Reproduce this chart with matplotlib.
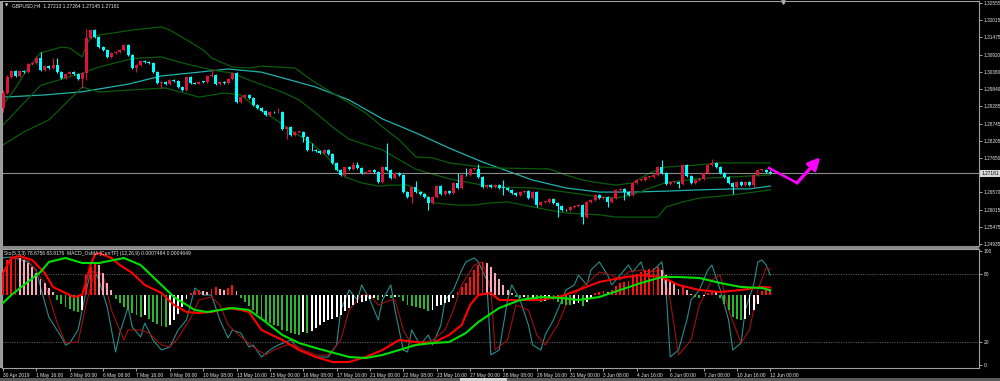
import numpy as np
import matplotlib.pyplot as plt
from matplotlib.patches import Rectangle
from matplotlib.transforms import blended_transform_factory

plt.rcParams['font.family'] = ['Liberation Sans', 'DejaVu Sans']

# GBPUSD H4, bar 0 = 30 Apr 2019 08:00, one bar = 4 hours
first_open = 1.2924
closes = [
    1.2971, 1.3022, 1.3041, 1.3025, 1.3041, 1.3037, 1.3063, 1.3066, 1.3082, 1.3044,
    1.3056, 1.3050, 1.3060, 1.3037, 1.3019, 1.3031, 1.3037, 1.3031, 1.3015, 1.3034,
    1.3145, 1.3170, 1.3148, 1.3116, 1.3107, 1.3085, 1.3098, 1.3101, 1.3107, 1.3123,
    1.3091, 1.3050, 1.3060, 1.3072, 1.3070, 1.3066, 1.3037, 1.3003, 1.3006, 1.2999,
    1.3012, 1.3010, 1.2990, 1.2981, 1.3022, 1.3003, 1.3001, 1.3006, 1.3005, 1.3025,
    1.3028, 1.2999, 1.3006, 1.3004, 1.3015, 1.3034, 1.2943, 1.2958, 1.2965, 1.2955,
    1.2933, 1.2924, 1.2914, 1.2902, 1.2911, 1.2910, 1.2912, 1.2857, 1.2864, 1.2838,
    1.2848, 1.2849, 1.2832, 1.2791, 1.2790, 1.2788, 1.2782, 1.2791, 1.2778, 1.2750,
    1.2728, 1.2712, 1.2737, 1.2731, 1.2744, 1.2734, 1.2718, 1.2721, 1.2728, 1.2721,
    1.2690, 1.2737, 1.2728, 1.2703, 1.2718, 1.2712, 1.2658, 1.2643, 1.2674, 1.2658,
    1.2652, 1.2643, 1.2624, 1.2643, 1.2677, 1.2652, 1.2661, 1.2655, 1.2687, 1.2671,
    1.2712, 1.2711, 1.2731, 1.2732, 1.2706, 1.2674, 1.2680, 1.2674, 1.2680, 1.2671,
    1.2670, 1.2665, 1.2655, 1.2649, 1.2658, 1.2660, 1.2639, 1.2658, 1.2617, 1.2627,
    1.2628, 1.2636, 1.2624, 1.2614, 1.2601, 1.2600, 1.2611, 1.2614, 1.2617, 1.2579,
    1.2627, 1.2633, 1.2649, 1.2639, 1.2643, 1.2627, 1.2639, 1.2665, 1.2668, 1.2658,
    1.2649, 1.2687, 1.2696, 1.2697, 1.2706, 1.2707, 1.2712, 1.2737, 1.2718, 1.2684,
    1.2690, 1.2691, 1.2684, 1.2744, 1.2709, 1.2687, 1.2696, 1.2699, 1.2718, 1.2744,
    1.2750, 1.2737, 1.2718, 1.2706, 1.2687, 1.2674, 1.2690, 1.2680, 1.2690, 1.2680,
    1.2712, 1.2728, 1.2729, 1.27213, 1.27181,
]
# bars with visible long shadows
wick_highs = {0: 1.2981, 1: 1.3028, 8: 1.3088, 9: 1.3101, 12: 1.3082, 13: 1.3082,
              20: 1.3173, 21: 1.3173, 50: 1.3047, 66: 1.2924, 74: 1.2813, 84: 1.2753,
              85: 1.2753, 92: 1.2813, 99: 1.2693, 109: 1.2718, 111: 1.2734, 114: 1.2747,
              120: 1.2696, 158: 1.2759, 170: 1.2763, 184: 1.27264}
wick_lows = {0: 1.2911, 19: 1.2987, 20: 1.3012, 32: 1.3037, 38: 1.2987, 68: 1.2826,
             72: 1.2816, 98: 1.2624, 102: 1.2601, 120: 1.2649, 128: 1.2611, 133: 1.2579,
             139: 1.2557, 145: 1.2611, 149: 1.2633, 162: 1.2671, 175: 1.2652, 180: 1.2671,
             184: 1.27145}

# moving average (cyan) and Bollinger bands (green), read at sample bars
ma_bars = [0, 10, 19, 30, 38, 47, 54, 62, 67, 75, 83, 91, 99, 107, 115, 119, 127,
           135, 143, 151, 159, 167, 175, 179, 184]
ma_vals = [1.2958, 1.2965, 1.2975, 1.2999, 1.3025, 1.3037, 1.3047, 1.3037, 1.3019,
           1.2990, 1.2949, 1.2889, 1.2845, 1.2797, 1.2753, 1.2734, 1.2696, 1.2671,
           1.2658, 1.2658, 1.2661, 1.2665, 1.2668, 1.2668, 1.2677]
bb_up_bars = [0, 3, 6, 9, 14, 16, 19, 20, 21, 23, 31, 38, 40, 44, 48, 50, 55, 59, 62, 70,
              74, 79, 83, 87, 91, 95, 99, 103, 107, 115, 119, 131, 135, 139, 143, 147,
              151, 155, 159, 167, 171, 184]
bb_up = [1.2933, 1.2987, 1.3050, 1.3098, 1.3116, 1.3113, 1.3085, 1.3123, 1.3145, 1.3154,
         1.3170, 1.3180, 1.3170, 1.3139, 1.3107, 1.3082, 1.3053, 1.3050, 1.3056, 1.3050,
         1.3012, 1.2971, 1.2940, 1.2908, 1.2864, 1.2823, 1.2769, 1.2766, 1.2750, 1.2737,
         1.2734, 1.2731, 1.2712, 1.2696, 1.2687, 1.2680, 1.2687, 1.2718, 1.2737, 1.2744,
         1.2750, 1.2750]
bb_mid_bars = [0, 9, 19, 23, 31, 38, 43, 50, 55, 59, 67, 71, 75, 79, 83, 91, 99, 107,
               115, 119, 127, 135, 143, 147, 151, 155, 159, 167, 175, 184]
bb_mid = [1.2870, 1.2995, 1.3034, 1.3053, 1.3080, 1.3085, 1.3066, 1.3044, 1.3034, 1.3012,
          1.2974, 1.2949, 1.2908, 1.2864, 1.2825, 1.2791, 1.2730, 1.2700, 1.2680, 1.2674,
          1.2671, 1.2658, 1.2643, 1.2639, 1.2650, 1.2670, 1.2688, 1.2701, 1.2706, 1.2712]
bb_low_bars = [0, 5, 11, 19, 23, 31, 39, 47, 53, 57, 60, 63, 70, 74, 78, 82, 86, 90, 93,
               97, 101, 103, 109, 113, 117, 121, 131, 135, 143, 147, 157, 159, 163, 167,
               175, 184]
bb_low = [1.2807, 1.2848, 1.2886, 1.2990, 1.2974, 1.2981, 1.2987, 1.2958, 1.2971, 1.2965,
          1.2933, 1.2908, 1.2845, 1.2813, 1.2766, 1.2706, 1.2687, 1.2677, 1.2680, 1.2680,
          1.2655, 1.2624, 1.2617, 1.2617, 1.2624, 1.2627, 1.2601, 1.2592, 1.2586, 1.2579,
          1.2579, 1.2611, 1.2627, 1.2639, 1.2649, 1.2665]

# Stochastic (5,3,3)
sto_main_bars = [0, 2, 6, 8, 9, 11, 14, 15, 16, 18, 20, 21, 22, 23, 25, 27, 28, 30, 31, 33,
                 34, 36, 38, 40, 42, 44, 46, 48, 50, 52, 54, 55, 57, 59, 60, 62, 64, 66, 69, 71,
                 74, 75, 78, 80, 81, 83, 85, 86, 88, 90, 91, 93, 94, 96, 97, 98, 100, 102, 103, 105,
                 106, 108, 110, 111, 113, 114, 116, 117, 119, 121, 122, 124, 126, 127, 129, 130,
                 132, 134, 135, 137, 138, 140, 141, 143, 145, 146, 148, 150, 151, 153, 154, 156,
                 158, 159, 160, 162, 164, 165, 167, 169, 170, 172, 174, 175, 177, 178, 180, 181,
                 182, 183, 184]
sto_main = [94, 94.7, 90.4, 83.3, 68.4, 41.9, 24.6, 17.5, 19.3, 30.7,
            65.8, 81.6, 81.6, 74.6, 50.9, 11.4, 28.1, 50.9, 33.3, 24.6,
            36.8, 21.9, 13.2, 15.8, 30.7, 39.5, 67.5, 61.4, 61.4, 39.5,
            23.7, 30.7, 28.1, 15.8, 17.5, 7.0, 13.2, 17.5, 21.9, 13.2,
            8.8, 7.0, 7.0, 17.5, 48.2, 65.8, 57.0, 70.2, 57.0, 39.5,
            57.0, 70.2, 48.2, 13.2, 11.4, 30.7, 17.5, 26.3, 17.5, 35.1,
            57.0, 65.8, 83.3, 90.4, 93.9, 90.4, 74.6, 8.8, 13.2, 57.0,
            70.2, 57.0, 35.1, 17.5, 13.2, 26.3, 39.5, 57.0, 65.8, 70.2,
            78.9, 70.2, 83.3, 90.4, 78.9, 70.2, 78.9, 87.7, 81.6, 90.4,
            78.9, 83.3, 90.4, 65.8, 7.0, 13.2, 39.5, 57.0, 65.8, 83.3,
            87.7, 65.8, 39.5, 13.2, 19.3, 48.2, 70.2, 90.4, 92.1, 87.7,
            78.68]
sto_sig_bars = [0, 2, 6, 10, 13, 15, 18, 20, 22, 24, 26, 29, 30, 33, 35, 38, 40, 42, 45, 47,
                50, 52, 54, 56, 58, 60, 63, 65, 68, 70, 72, 75, 78, 81, 83, 86, 88, 90, 93, 94,
                96, 98, 101, 103, 106, 108, 110, 113, 115, 117, 118, 121, 123, 126, 128, 130,
                133, 135, 138, 141, 143, 146, 148, 150, 153, 155, 158, 160, 162, 165, 167, 170,
                172, 174, 177, 179, 181, 183, 184]
sto_sig = [81.6, 94.7, 92.1, 71.9, 36.8, 19.3, 20.2, 54.4, 81.6, 78.9,
           48.2, 21.9, 30.7, 30.7, 28.1, 17.5, 15.8, 23.7, 41.2, 57.0,
           59.6, 52.6, 35.1, 28.1, 21.9, 15.8, 8.8, 13.2, 17.5, 17.5,
           13.2, 8.8, 8.8, 21.9, 48.2, 61.4, 61.4, 52.6, 57.0, 57.0,
           30.7, 17.5, 19.3, 21.9, 30.7, 48.2, 70.2, 87.7, 90.4, 65.8,
           13.2, 21.9, 52.6, 48.2, 26.3, 17.5, 35.1, 52.6, 65.8, 74.6,
           81.6, 78.9, 74.6, 81.6, 83.3, 81.6, 83.3, 57.0, 8.8, 21.9,
           52.6, 74.6, 78.9, 48.2, 19.3, 30.7, 65.8, 85.1, 83.82]

# MACD_OsMA (12,26,9): histogram per bar in units of 0.0001, plus two lines
osma_e4 = [23, 35, 38, 38, 37, 35, 32, 28, 22, 16, 12, 7, 3,
           -5, -9, -12, -14, -16, -17, -15,
           20, 28, 32, 30, 22, 12, 5,
           -4, -8, -12, -15, -18, -20, -22, -20, -24, -27, -29, -31, -32, -30, -25, -19, -12,
           -4, 2, 4, 5, 4, 3, 6, 8, 6, 5, 7, 10, 4, -3,
           -7, -11, -15, -19, -23, -26, -28, -30, -31, -35, -36, -38, -39, -40,
           -37, -38, -36, -33, -30, -27, -25, -24, -22, -20, -16, -13,
           -10, -8, -7, -6, -4, -3, -5, -2, -1, -3, -2, -2,
           -6, -10, -11, -12, -13, -14, -16, -15, -11, -10, -8, -7, -3,
           3, 8, 12, 18, 25, 30, 33, 32, 28, 22, 16, 10,
           5, 2, -2, -3, -2, -4, -3, -6, -7, -6, -4, -5, -7, -9, -10,
           -10, -9, -8, -11, -7, -4, 2, 3, 4, 3, 5, 9,
           12, 13, 14, 18, 21, 23, 25, 26, 27, 28, 25,
           20, 15, 11, 6, 8, 5, 1, -2, -3, -1, 2, 4, 3, -3, -9, -15, -22, -24, -25, -24,
           -20, -15, -9, 4, 5, 6]
macd_bars = [0, 2, 4, 7, 10, 12, 15, 17, 19, 21, 22, 23, 26, 28, 31, 34, 38, 41, 44, 47,
             50, 54, 57, 59, 62, 67, 71, 75, 79, 83, 87, 91, 95, 99, 103, 107, 110, 112, 114, 117,
             119, 124, 129, 134, 138, 143, 148, 153, 158, 162, 167, 172, 177, 182, 184]
macd_vals = [0.0022, 0.0037, 0.0039, 0.0035, 0.0022, 0.0008, 0.0002, -0.0002, 0.0, 0.0030,
             0.0040, 0.0042, 0.0037, 0.0030, 0.0022, 0.0010, 0.0002, -0.0010, -0.0017, -0.0018,
             -0.0017, -0.0013, -0.0015, -0.0017, -0.0035, -0.0045, -0.0055, -0.0062, -0.0067, -0.0067,
             -0.0062, -0.0055, -0.0045, -0.0047, -0.0048, -0.0040, -0.0030, -0.0010, 0.0, 0.0002,
             -0.0005, -0.0005, -0.0005, -0.0001, 0.0005, 0.0013, 0.0017, 0.0020, 0.0018, 0.0010,
             0.0005, 0.0003, 0.0005, 0.0008, 0.0007484]
signal_bars = [0, 2, 5, 9, 11, 15, 19, 23, 29, 33, 35, 41, 46, 49, 55, 59, 63, 67, 71, 75,
               83, 87, 91, 95, 99, 103, 107, 111, 114, 119, 124, 129, 134, 138, 143, 148, 153,
               158, 162, 167, 172, 177, 182, 184]
signal_vals = [-0.0008, 0.0, 0.0010, 0.0023, 0.0033, 0.0037, 0.0032, 0.0032, 0.0037, 0.0030,
               0.0022, -0.0002, -0.0015, -0.0017, -0.0013, -0.0015, -0.0027, -0.0040, -0.0048, -0.0053,
               -0.0062, -0.0063, -0.0060, -0.0055, -0.0050, -0.0048, -0.0047, -0.0038, -0.0027, -0.0013,
               -0.0005, -0.0002, -0.0003, -0.0005, -0.0002, 0.0005, 0.0012, 0.0018, 0.0018, 0.0017,
               0.0012, 0.0008, 0.0007, 0.0004649]

price_ticks = [1.32555, 1.32015, 1.31475, 1.30920, 1.30380, 1.29840, 1.29285, 1.28745,
               1.28205, 1.27650, 1.26570, 1.26015, 1.25475, 1.24935]
time_labels = ['30 Apr 2019', '1 May 16:00', '3 May 00:00', '6 May 08:00', '7 May 16:00',
               '9 May 00:00', '10 May 08:00', '13 May 16:00', '15 May 00:00', '16 May 08:00',
               '17 May 16:00', '21 May 00:00', '22 May 08:00', '23 May 16:00', '27 May 00:00',
               '28 May 08:00', '29 May 16:00', '31 May 00:00', '3 Jun 08:00', '4 Jun 16:00',
               '6 Jun 00:00', '7 Jun 08:00', '10 Jun 16:00', '12 Jun 00:00']
last_price = 1.27181
arrow_bars = [183.7, 190.4, 196.0]
arrow_prices = [1.2734, 1.2687, 1.2768]
shift_bar, shift_price = 187, 1.3259

BULL, BEAR = '#DC143C', '#00FFFF'
FRAME = '#A0A0A0'
TXT = '#E6E6E6'


def px_box(x0, y0, x1, y1):
    return [x0 / 1000, 1 - y1 / 381, (x1 - x0) / 1000, (y1 - y0) / 381]


fig = plt.figure(figsize=(10, 3.81), dpi=100, facecolor='black')
ax = fig.add_axes(px_box(2, 1, 979, 246))
sub = fig.add_axes(px_box(2, 249, 979, 368))
xlim = (-0.24, 234.05)

# ---- main chart: candles
closes = np.array(closes)
n = len(closes)
bars = np.arange(n)
opens = np.concatenate([[first_open], closes[:-1]])
highs = np.maximum(opens, closes) + 0.0003
lows = np.minimum(opens, closes) - 0.0003
for k, v in wick_highs.items():
    highs[k] = v
for k, v in wick_lows.items():
    lows[k] = v
colors = np.where(closes >= opens, BULL, BEAR)
body = np.maximum(np.abs(closes - opens), 0.00025)

ax.set_facecolor('black')
ax.plot(ma_bars, ma_vals, color='#20B2AA', lw=0.9, zorder=1)
for bx, by in [(bb_up_bars, bb_up), (bb_mid_bars, bb_mid), (bb_low_bars, bb_low)]:
    ax.plot(bx, by, color='#0A5C0A', lw=0.9, zorder=1)
ax.vlines(bars, lows, highs, colors=colors, lw=0.8, zorder=2)
ax.bar(bars, body, bottom=np.minimum(opens, closes), width=0.72, color=colors,
       linewidth=0, zorder=3)
ax.axhline(last_price, color='#8C8C8C', lw=0.8, zorder=1.5)

ax.plot(arrow_bars[:2], arrow_prices[:2], color='#FF00FF', lw=1.8, zorder=5)
ax.annotate('', xy=(arrow_bars[2], arrow_prices[2]), xytext=(arrow_bars[1], arrow_prices[1]),
            arrowprops=dict(arrowstyle='-|>,head_length=0.7,head_width=0.35',
                            color='#FF00FF', lw=2.4, shrinkA=0, shrinkB=0), zorder=5)
ax.plot([shift_bar], [shift_price], marker='v', ms=2.5, color='#A8BCD0', clip_on=False)

ax.set_xlim(*xlim)
ax.set_ylim(1.24876, 1.32618)
ax.set_xticks([])
ax.yaxis.tick_right()
ax.set_yticks(price_ticks)
ax.set_yticklabels([f'{t:.5f}' for t in price_ticks])
ax.tick_params(axis='y', labelsize=3.4, colors=TXT, length=2, width=0.5, pad=1)
for s in ax.spines.values():
    s.set_color(FRAME)
    s.set_linewidth(0.8)
trans = blended_transform_factory(ax.transAxes, ax.transData)
ax.text(1.0025, last_price, f'{last_price:.5f}', transform=trans, fontsize=3.4, color='black',
        va='center', ha='left', clip_on=False, zorder=10,
        bbox=dict(boxstyle='square,pad=0.2', fc='#D8D8D8', ec='none'))

# ---- sub window: stochastic + OsMA
sub.set_facecolor('black')
macd_ax = sub.twinx()
sub.yaxis.tick_right()
sub.axhline(80, color='#8C8C8C', lw=0.5, ls=(0, (1.5, 2)))
sub.axhline(20, color='#8C8C8C', lw=0.5, ls=(0, (1.5, 2)))
sub.plot(sto_main_bars, sto_main, color='#2A8C8C', lw=0.8)
sub.plot(sto_sig_bars, sto_sig, color='#A01010', lw=0.8)
sub.set_xlim(*xlim)
sub.set_ylim(-2.63, 101.75)
sub.set_yticks([0, 20, 80, 100])
sub.set_yticklabels(['0', '20', '80', '100'])
sub.set_xticks(np.arange(0, 8 * len(time_labels), 8))
sub.set_xticklabels(time_labels, ha='left')
sub.tick_params(axis='both', labelsize=3.5, colors=TXT, length=2.5, width=0.5, pad=1)
for s in sub.spines.values():
    s.set_color(FRAME)
    s.set_linewidth(0.8)

osma = np.array(osma_e4) * 1e-4
prev = np.concatenate([[osma[0]], osma[:-1]])
hist_colors = np.where(osma >= 0,
                       np.where(osma >= prev, '#FF1010', '#F7A8B8'),
                       np.where(osma <= prev, '#2DB52D', '#FFFFFF'))
macd_ax.bar(bars, osma, width=0.45, color=hist_colors, linewidth=0)
macd_ax.plot(macd_bars, macd_vals, color='#FF0000', lw=1.5)
macd_ax.plot(signal_bars, signal_vals, color='#00E000', lw=1.5)
macd_ax.set_xlim(*xlim)
macd_ax.set_ylim(-0.0073, 0.0046)
macd_ax.yaxis.set_visible(False)
for s in macd_ax.spines.values():
    s.set_visible(False)

# ---- frame pieces and labels
fig.add_artist(Rectangle((0, 1 - 249 / 381), 0.979, 3 / 381, transform=fig.transFigure,
                         facecolor='#8A8A8A', edgecolor='none'))
fig.add_artist(Rectangle((0, 1 - 368 / 381), 0.0018, 367 / 381, transform=fig.transFigure,
                         facecolor='#9A9A9A', edgecolor='none'))
fig.add_artist(Rectangle((0, 0), 1, 3 / 381, transform=fig.transFigure,
                         facecolor='#5A5A5A', edgecolor='none'))
fig.add_artist(Rectangle((0.46, 0), 0.047, 3 / 381, transform=fig.transFigure,
                         facecolor='#D0D0D0', edgecolor='none'))

fig.text(0.0045, 1 - 5.5 / 381, '\u25BC', fontsize=3, color=TXT, va='center',
         family=['DejaVu Sans'])
fig.text(0.012, 1 - 5.5 / 381, 'GBPUSD,H4  1.27213 1.27264 1.27145 1.27181',
         fontsize=3.6, color=TXT, va='center')
fig.text(0.004, 1 - 253 / 381,
         'Sto(5,3,3) 78.6756 83.8176  MACD_OsMA [CurrTF] (12,26,9) 0.0007484 0.0004649',
         fontsize=3.6, color=TXT, va='center')

fig.savefig('out.png', dpi=100, facecolor='black')
